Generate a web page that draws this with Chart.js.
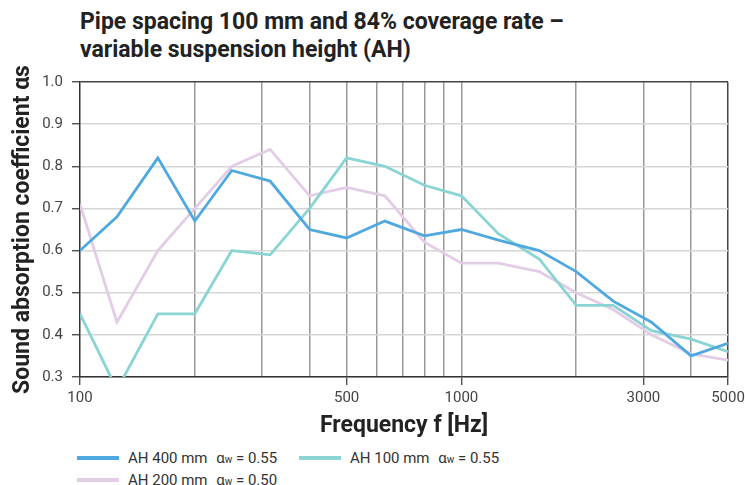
<!DOCTYPE html>
<html>
<head>
<meta charset="utf-8">
<script src="https://cdn.jsdelivr.net/npm/chart.js@4.4.1/dist/chart.umd.min.js"></script>
<style>
  body { margin: 0; background: #fff; }
  #wrap { position: relative; width: 745px; height: 485px; overflow: hidden; }
  #title {
    position: absolute; left: 80px; top: 8px;
    font: bold 23px "Roboto", sans-serif;
    line-height: 28px; color: #222;
  }
  #chartBox { position: absolute; left: 0; top: 0; width: 745px; height: 445px; }
  .leg { position: absolute; font: 15px "Roboto", sans-serif; color: #333; height: 18px; line-height: 18px; }
  .leg .swatch { position: absolute; left: 0; top: 7px; width: 42px; height: 4px; }
  .leg .txt { position: absolute; left: 51px; top: 0; white-space: nowrap; }
  .leg sub { font-size: 10px; vertical-align: 0px; }
  .alpha { margin-left: 5px; }
</style>
</head>
<body>
<div id="wrap">
  <div id="title">Pipe spacing 100 mm and 84% coverage rate –<br>variable suspension height (AH)</div>
  <div id="chartBox"><canvas id="chart"></canvas></div>
  <div class="leg" style="left:77px; top:449px;"><div class="swatch" style="background:#4fa9e0"></div><div class="txt">AH 400 mm <span class="alpha">α</span><sub>w</sub> = 0.55</div></div>
  <div class="leg" style="left:299px; top:449px;"><div class="swatch" style="background:#8ad4d4"></div><div class="txt">AH 100 mm <span class="alpha">α</span><sub>w</sub> = 0.55</div></div>
  <div class="leg" style="left:77px; top:471px;"><div class="swatch" style="background:#e2cce6"></div><div class="txt">AH 200 mm <span class="alpha">α</span><sub>w</sub> = 0.50</div></div>
</div>
<script>
// third-octave centre frequencies
const freqs = [100, 125, 160, 200, 250, 315, 400, 500, 630, 800, 1000, 1250, 1600, 2000, 2500, 3150, 4000, 5000];

// absorption coefficients
const ah400 = [0.60, 0.68, 0.82, 0.67, 0.79, 0.765, 0.65, 0.63, 0.67, 0.635, 0.65, 0.625, 0.60, 0.55, 0.48, 0.43, 0.35, 0.38];
const ah100 = [0.45, 0.27, 0.45, 0.45, 0.60, 0.59, 0.70, 0.82, 0.80, 0.755, 0.73, 0.64, 0.58, 0.47, 0.47, 0.41, 0.39, 0.36];
const ah200 = [0.71, 0.43, 0.60, 0.70, 0.80, 0.84, 0.73, 0.75, 0.73, 0.62, 0.57, 0.57, 0.55, 0.50, 0.46, 0.40, 0.355, 0.34];

// grid lines and labelled ticks on the frequency axis
const gridFreqs = [100, 200, 300, 400, 500, 600, 700, 800, 900, 1000, 2000, 3000, 4000, 5000];
const labelFreqs = [100, 500, 1000, 3000, 5000];
const yTicks = [0.3, 0.4, 0.5, 0.6, 0.7, 0.8, 0.9, 1.0];

function toPoints(values) {
  return freqs.map((f, i) => ({ x: f, y: values[i] }));
}

const ctx = document.getElementById('chart').getContext('2d');
const myChart = new Chart(ctx, {
  type: 'line',
  data: {
    datasets: [
      { label: 'AH 400 mm', data: toPoints(ah400), borderColor: '#4fa9e0', borderWidth: 2.8, pointRadius: 0, tension: 0 },
      { label: 'AH 100 mm', data: toPoints(ah100), borderColor: '#8ad4d4', borderWidth: 2.8, pointRadius: 0, tension: 0 },
      { label: 'AH 200 mm', data: toPoints(ah200), borderColor: '#e2cce6', borderWidth: 2.8, pointRadius: 0, tension: 0 }
    ]
  },
  options: {
    responsive: true,
    maintainAspectRatio: false,
    animation: false,
    layout: { padding: { left: 0, right: 17, top: 82, bottom: 0 } },
    plugins: { legend: { display: false }, tooltip: { enabled: false } },
    scales: {
      x: {
        type: 'logarithmic',
        min: 100,
        max: 5000,
        afterBuildTicks: (scale) => { scale.ticks = gridFreqs.map(v => ({ value: v })); },
        afterFit: (scale) => { scale.height = 68; scale.paddingLeft = 0; scale.paddingRight = 0; },
        border: { color: '#333', width: 1.5 },
        grid: {
          color: (c) => {
            const v = c.tick && c.tick.value;
            if (v === 100) return 'rgba(0,0,0,0)';
            if (v === 5000) return '#444';
            return '#9a9a9a';
          },
          lineWidth: 1.5,
          tickLength: 8,
          tickColor: (c) => labelFreqs.includes(c.tick && c.tick.value) ? '#333' : 'rgba(0,0,0,0)',
          tickWidth: 1.2
        },
        ticks: {
          autoSkip: false,
          maxRotation: 0,
          padding: 4,
          color: '#444',
          font: { family: 'Roboto', size: 15 },
          callback: (value) => labelFreqs.includes(value) ? String(value) : ''
        },
        title: {
          display: true,
          text: 'Frequency f [Hz]',
          color: '#222',
          font: { family: 'Roboto', size: 23, weight: 'bold' },
          padding: { top: 0, bottom: 5 }
        }
      },
      y: {
        min: 0.3,
        max: 1.0,
        afterBuildTicks: (scale) => { scale.ticks = yTicks.map(v => ({ value: v })); },
        afterFit: (scale) => { scale.width = 80; },
        border: { color: '#333', width: 1.5 },
        grid: {
          color: (c) => (c.tick && c.tick.value === 1.0) ? '#444' : '#d6d6d6',
          lineWidth: 1.5,
          tickLength: 8,
          tickColor: '#333',
          tickWidth: 1.2
        },
        ticks: {
          padding: 9,
          color: '#444',
          font: { family: 'Roboto', size: 15 },
          callback: (value) => value.toFixed(1)
        },
        title: {
          display: true,
          text: 'Sound absorption coefficient αs',
          color: '#222',
          font: { family: 'Roboto', size: 23, weight: 'bold' },
          padding: { top: 9, bottom: 0 }
        }
      }
    }
  }
});
</script>
</body>
</html>
